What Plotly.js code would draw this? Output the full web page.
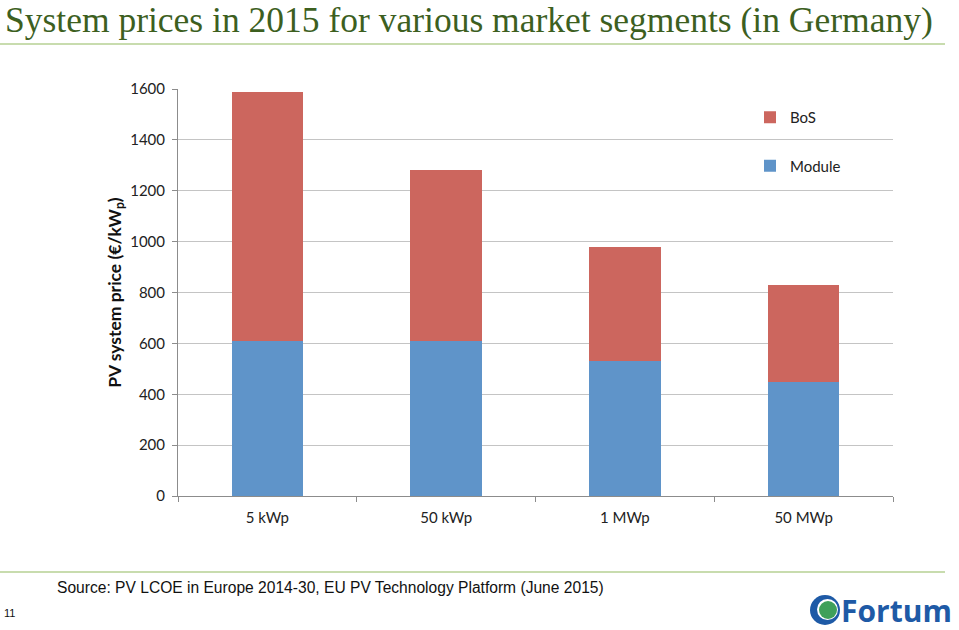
<!DOCTYPE html>
<html>
<head>
<meta charset="utf-8">
<script src="https://cdn.plot.ly/plotly-3.0.1.min.js"></script>
<style>
html,body{margin:0;padding:0;background:#fff;}
#chart{width:959px;height:630px;}
</style>
</head>
<body>
<div id="chart"></div>
<script>
const categories = ['5 kWp', '50 kWp', '1 MWp', '50 MWp'];
const moduleValues = [610, 610, 530, 450];
const bosValues = [980, 670, 450, 380];
const yTicks = [0, 200, 400, 600, 800, 1000, 1200, 1400, 1600];

// pixel -> paper helpers (plot area: x 178..893, y 89..496)
const L = 178, R = 893, T = 89, B = 496;
const px = x => (x - L) / (R - L);
const py = y => (B - y) / (B - T);

const traces = [
  {type: 'bar', name: 'Module', x: categories, y: moduleValues,
   marker: {color: '#5f94c9'}, legendgroup: 'g2', legendrank: 2, hoverinfo: 'y'},
  {type: 'bar', name: 'BoS', x: categories, y: bosValues,
   marker: {color: '#cc665e'}, legendgroup: 'g1', legendrank: 1, hoverinfo: 'y'}
];

const layout = {
  width: 959, height: 630,
  margin: {l: L, r: 959 - R, t: T, b: 630 - B},
  paper_bgcolor: '#ffffff', plot_bgcolor: '#ffffff',
  barmode: 'stack',
  bargap: 0.6,
  font: {family: 'Lato, "Open Sans", sans-serif', size: 15, color: '#222'},
  xaxis: {
    type: 'category', showline: true, linecolor: '#8c8c8c', linewidth: 1,
    ticks: 'outside', tickson: 'boundaries', ticklen: 5, tickcolor: '#8c8c8c',
    ticklabelstandoff: 8,
    showgrid: false, tickfont: {size: 15, color: '#222'}
  },
  yaxis: {
    range: [0, 1600], tickvals: yTicks, showline: true, linecolor: '#8c8c8c', linewidth: 1,
    ticks: 'outside', ticklen: 5, tickcolor: '#8c8c8c',
    ticklabelstandoff: 4,
    showgrid: true, gridcolor: '#c4c4c4', gridwidth: 1, zeroline: false,
    tickfont: {size: 15, color: '#222'},
    title: {text: '<b>PV system price (€/kW<sub>p</sub>)</b>', standoff: 4,
            font: {size: 17.5, color: '#111', family: 'Lato, "Open Sans", sans-serif'}}
  },
  legend: {
    x: px(750), y: py(101), xanchor: 'left', yanchor: 'top',
    traceorder: 'grouped', tracegroupgap: 26,
    bgcolor: 'rgba(0,0,0,0)', font: {size: 15, color: '#222'},
    itemwidth: 30
  },
  showlegend: true,
  annotations: [
    {xref: 'paper', yref: 'paper', x: px(3), y: py(20), xanchor: 'left', yanchor: 'middle',
     text: 'System prices in 2015 for various market segments (in Germany)', showarrow: false,
     font: {family: '"Liberation Serif", "Times New Roman", serif', size: 35.5, color: '#3d5f1f'}},
    {xref: 'paper', yref: 'paper', x: px(55), y: py(587), xanchor: 'left', yanchor: 'middle',
     text: 'Source: PV LCOE in Europe 2014-30, EU PV Technology Platform (June 2015)', showarrow: false,
     font: {family: '"Liberation Sans", Arial, sans-serif', size: 15.6, color: '#111'}},
    {xref: 'paper', yref: 'paper', x: px(2), y: py(613), xanchor: 'left', yanchor: 'middle',
     text: '11', showarrow: false,
     font: {family: '"Liberation Sans", Arial, sans-serif', size: 11, color: '#111'}},
    {xref: 'paper', yref: 'paper', x: px(839), y: py(610), xanchor: 'left', yanchor: 'middle',
     text: '<b>Fortum</b>', showarrow: false,
     font: {family: '"Open Sans", Lato, sans-serif', size: 30, color: '#1e5aa6'}}
  ],
  shapes: [
    {type: 'line', xref: 'paper', yref: 'paper', x0: px(0), x1: px(945), y0: py(44), y1: py(44),
     line: {color: '#c8dcae', width: 2}},
    {type: 'line', xref: 'paper', yref: 'paper', x0: px(0), x1: px(945), y0: py(572), y1: py(572),
     line: {color: '#c8dcae', width: 2}},
    {type: 'circle', xref: 'paper', yref: 'paper', x0: px(810), x1: px(840), y0: py(625), y1: py(595),
     fillcolor: '#1e5aa6', line: {width: 0}},
    {type: 'circle', xref: 'paper', yref: 'paper', x0: px(817), x1: px(838), y0: py(620), y1: py(599),
     fillcolor: '#ffffff', line: {width: 0}},
    {type: 'circle', xref: 'paper', yref: 'paper', x0: px(819), x1: px(837), y0: py(619), y1: py(601),
     fillcolor: '#3fa05a', line: {width: 0}}
  ]
};

Plotly.newPlot('chart', traces, layout, {displayModeBar: false, staticPlot: true});
</script>
</body>
</html>
